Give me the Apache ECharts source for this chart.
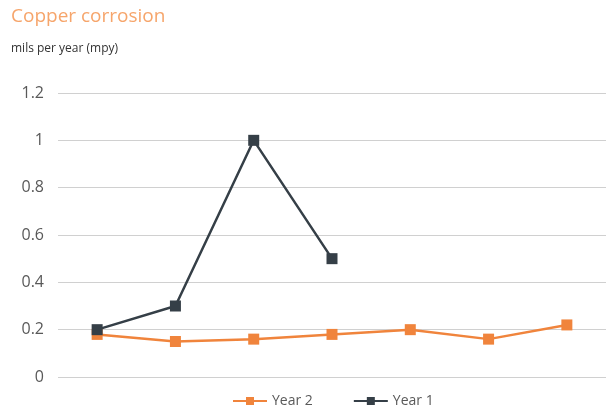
<!DOCTYPE html>
<html>
<head>
<meta charset="utf-8">
<script src="https://cdn.jsdelivr.net/npm/echarts@6/dist/echarts.min.js"></script>
<style>
  html, body { margin: 0; padding: 0; background: #fff; }
  #chart { width: 606px; height: 411px; }
</style>
</head>
<body>
<div id="chart"></div>
<script>
// ---- Data ----
const categories = ['1', '2', '3', '4', '5', '6', '7']
const year2 = [0.18, 0.15, 0.16, 0.18, 0.2, 0.16, 0.22]
const year1 = [0.2, 0.3, 1.0, 0.5, null, null, null]

const ORANGE = '#f0843c'
const DARK = '#353f47'
const TITLE_COLOR = '#f6a56b'
const TEXT_COLOR = '#595959'
const GRID_COLOR = '#d0d0d0'
const FONT = '"Open Sans", Lato, sans-serif'

const chart = echarts.init(document.getElementById('chart'), null, { renderer: 'canvas' })

chart.setOption({
  animation: false,
  backgroundColor: '#fff',
  textStyle: { fontFamily: FONT },
  title: [
    {
      text: 'Copper corrosion',
      left: 11,
      top: 7,
      padding: 0,
      textStyle: { color: TITLE_COLOR, fontSize: 19, fontWeight: 'normal', fontFamily: FONT },
    },
    {
      text: 'mils per year (mpy)',
      left: 11,
      top: 43,
      padding: 0,
      textStyle: { color: '#333', fontSize: 12, fontWeight: 'normal', fontFamily: FONT },
    },
  ],
  legend: {
    bottom: -2,
    left: 227,
    itemWidth: 34,
    itemHeight: 10,
    itemGap: 40,
    textStyle: { color: TEXT_COLOR, fontSize: 14, fontFamily: FONT },
    data: ['Year 2', 'Year 1'],
  },
  grid: {
    left: 58,
    right: 0,
    top: 93,
    bottom: 34,
    containLabel: false,
  },
  xAxis: {
    type: 'category',
    data: categories,
    boundaryGap: true,
    axisLine: { show: false },
    axisTick: { show: false },
    axisLabel: { show: false },
  },
  yAxis: {
    type: 'value',
    min: 0,
    max: 1.2,
    interval: 0.2,
    axisLine: { show: false },
    axisTick: { show: false },
    axisLabel: { color: TEXT_COLOR, fontSize: 16, margin: 14, fontFamily: FONT },
    splitLine: { lineStyle: { color: GRID_COLOR, width: 1 } },
  },
  series: [
    {
      name: 'Year 2',
      type: 'line',
      data: year2,
      symbol: 'rect',
      symbolSize: 11,
      lineStyle: { color: ORANGE, width: 2.5 },
      itemStyle: { color: ORANGE },
    },
    {
      name: 'Year 1',
      type: 'line',
      data: year1,
      symbol: 'rect',
      symbolSize: 11,
      lineStyle: { color: DARK, width: 2.5 },
      itemStyle: { color: DARK },
      z: 3,
    },
  ],
})
</script>
</body>
</html>
